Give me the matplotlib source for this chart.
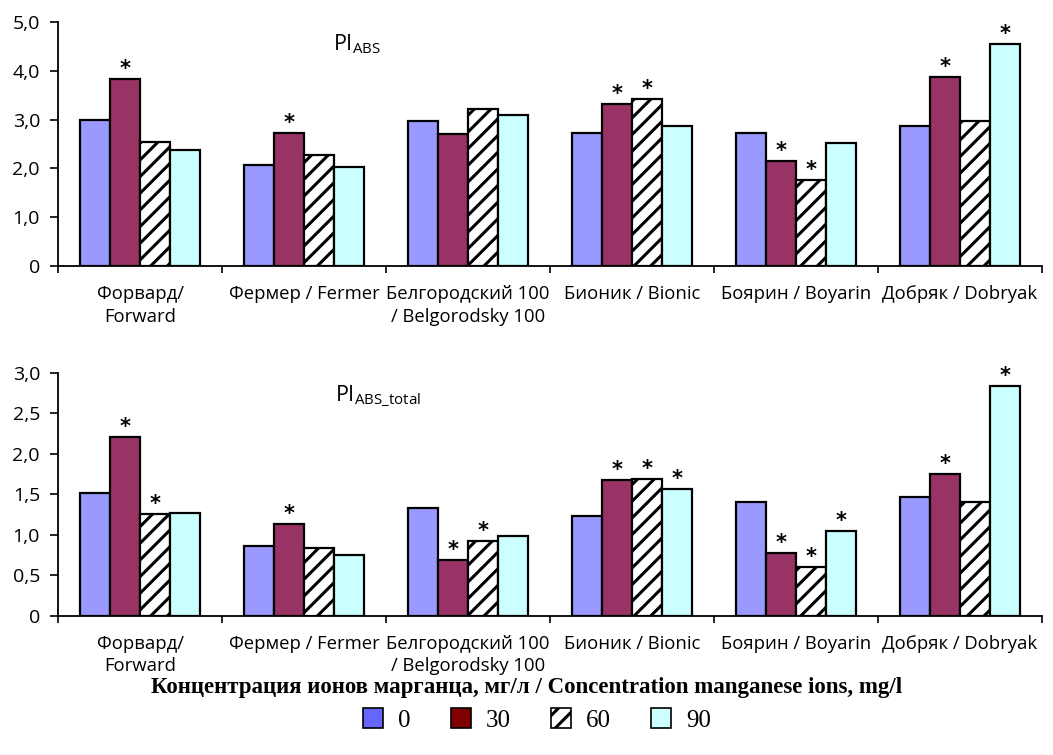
import numpy as np
import matplotlib
matplotlib.use("Agg")
import matplotlib.pyplot as plt
from matplotlib.patches import Patch

# varieties
cats = ["Форвард/\nForward", "Фермер / Fermer", "Белгородский 100\n/ Belgorodsky 100",
        "Бионик / Bionic", "Боярин / Boyarin", "Добряк / Dobryak"]
conc = ["0", "30", "60", "90"]

# PI_ABS
abs_0 = [3.00, 2.07, 2.97, 2.73, 2.73, 2.87]
abs_30 = [3.83, 2.73, 2.70, 3.32, 2.15, 3.87]
abs_60 = [2.55, 2.28, 3.22, 3.43, 1.76, 2.97]
abs_90 = [2.38, 2.03, 3.10, 2.87, 2.53, 4.55]
# significance marks (1 = asterisk)
abs_sig = [[0, 0, 0, 0, 0, 0],
           [1, 1, 0, 1, 1, 1],
           [0, 0, 0, 1, 1, 0],
           [0, 0, 0, 0, 0, 1]]

# PI_ABS_total
tot_0 = [1.52, 0.86, 1.33, 1.23, 1.40, 1.46]
tot_30 = [2.21, 1.13, 0.69, 1.67, 0.77, 1.75]
tot_60 = [1.25, 0.83, 0.92, 1.69, 0.60, 1.40]
tot_90 = [1.27, 0.75, 0.98, 1.56, 1.05, 2.83]
tot_sig = [[0, 0, 0, 0, 0, 0],
           [1, 1, 1, 1, 1, 1],
           [1, 0, 1, 1, 1, 0],
           [0, 0, 0, 1, 1, 1]]

bar_colors = ["#9999FF", "#993366", "white", "#CCFFFF"]
bar_hatch = [None, None, "//", None]
leg_colors = ["#6666FF", "#800000", "white", "#CCFFFF"]

plt.rcParams["hatch.linewidth"] = 2.2
plt.rcParams["mathtext.fontset"] = "custom"
plt.rcParams["mathtext.rm"] = "Open Sans"
plt.rcParams["mathtext.it"] = "Open Sans"

fig = plt.figure(figsize=(10.53, 7.55), dpi=100)
ax1 = fig.add_axes([0.0551, 0.6477, 0.9345, 0.3232])
ax2 = fig.add_axes([0.0551, 0.1845, 0.9345, 0.3219])

w = 0.183
x = np.arange(len(cats))


def draw(ax, series, sig, ymax, step, label, lx, ly):
    for i, vals in enumerate(series):
        pos = x + (i - 1.5) * w
        ax.bar(pos, vals, width=w, color=bar_colors[i], hatch=bar_hatch[i],
               edgecolor="black", linewidth=1.6, zorder=2)
        for j, v in enumerate(vals):
            if sig[i][j]:
                ax.annotate("*", (pos[j], v), xytext=(0, 0), textcoords="offset points",
                            ha="center", va="bottom", fontsize=15, fontweight="bold",
                            family="DejaVu Sans")
    ax.set_xlim(-0.5, len(cats) - 0.5)
    ax.set_ylim(0, ymax)
    ticks = np.arange(0, ymax + step / 2, step)
    ax.set_yticks(ticks)
    ax.set_yticklabels(["0"] + [("%.1f" % t).replace(".", ",") for t in ticks[1:]],
                       family="Open Sans", fontsize=14)
    ax.set_xticks(x)
    ax.set_xticklabels(cats, family="Open Sans", fontsize=13.3, linespacing=1.3)
    ax.set_xticks(np.arange(-0.5, len(cats)), minor=True)
    ax.tick_params(axis="x", which="major", length=0, pad=14)
    ax.tick_params(axis="x", which="minor", length=5, width=1.2, direction="out")
    ax.tick_params(axis="y", length=6, width=1.2, direction="out", pad=7)
    for s in ["top", "right"]:
        ax.spines[s].set_visible(False)
    for s in ["left", "bottom"]:
        ax.spines[s].set_linewidth(1.3)
    ax.text(lx, ly, label, transform=fig.transFigure, ha="center", va="center",
            fontsize=15.5)


draw(ax1, [abs_0, abs_30, abs_60, abs_90], abs_sig, 5.0, 1.0,
     r"$\mathrm{PI}_{\mathrm{ABS}}$", 357 / 1053, 1 - 44 / 755)
draw(ax2, [tot_0, tot_30, tot_60, tot_90], tot_sig, 3.0, 0.5,
     r"$\mathrm{PI}_{\mathrm{ABS\_total}}$", 378 / 1053, 1 - 396 / 755)

fig.text(0.5, 1 - 687 / 755,
         "Концентрация ионов марганца, мг/л / Concentration manganese ions, mg/l",
         ha="center", va="center", family="Liberation Serif", fontweight="bold",
         fontsize=16.5)

handles = [Patch(facecolor=leg_colors[i], edgecolor="black", hatch=bar_hatch[i],
                 linewidth=1.2, label=conc[i]) for i in range(4)]
fig.legend(handles=handles, loc="center", bbox_to_anchor=(0.51, 1 - 720 / 755),
           ncol=4, frameon=False, prop={"family": "Liberation Serif", "size": 18},
           handlelength=0.8, handleheight=0.8, handletextpad=0.6, columnspacing=1.6)

fig.savefig("out.png", dpi=100)
